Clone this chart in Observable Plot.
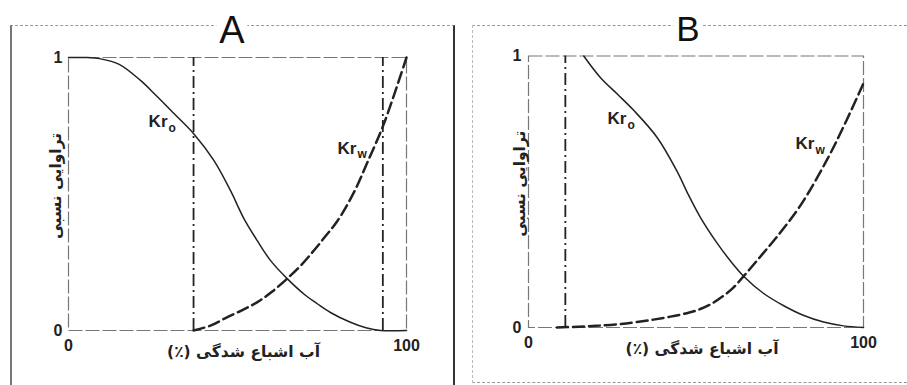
<!DOCTYPE html>
<html>
<head>
<meta charset="utf-8">
<script src="https://cdn.jsdelivr.net/npm/d3@7"></script>
<script src="https://cdn.jsdelivr.net/npm/@observablehq/plot@0.6"></script>
<style>
  body { margin: 0; background: #fff; }
  #wrap { position: relative; width: 907px; height: 385px; overflow: hidden; background: #fff; }
  .panel { position: absolute; top: 0; }
  .box { position: absolute; box-sizing: border-box; pointer-events: none; }
  #boxA { left: 10px; top: 25px; width: 445px; height: 362px;
          border-top: 1.5px dashed #999; border-left: 2px solid #777; border-right: 2px solid #333; }
  #boxB { left: 472px; top: 25px; width: 450px; height: 358px;
          border-top: 1.5px dashed #999; border-left: 1px dashed #bbb; border-bottom: 1.5px dashed #999; }
  .letter { position: absolute; font-family: "Liberation Sans", Arial, sans-serif; color: #111;
            background: #fff; line-height: 1; padding: 0 3px; transform: translateX(-50%); }
</style>
</head>
<body>
<div id="wrap">
  <div class="panel" id="pA" style="left:0px"></div>
  <div class="panel" id="pB" style="left:453px"></div>
  <div class="box" id="boxA"></div>
  <div class="box" id="boxB"></div>
</div>
<script>
// ---- data ----
const panelLetters = ["A", "B"];
const xTicks = [0, 100];
const yTicks = [0, 1];
const xLabel = "\u202Bآب اشباع شدگی (٪)\u202C";
const yLabel = "تراوایی نسبی";

// Panel A
const swKroA = [0, 5, 9.5, 15, 21.3, 26, 31.2, 37.1, 43, 47.9, 51.9, 55.8, 59.8, 64.7, 70, 73.6, 77.5, 83.4, 88, 92.3, 100];
const kroA   = [1, 1, 0.995, 0.975, 0.916, 0.86, 0.795, 0.72, 0.623, 0.513, 0.41, 0.33, 0.256, 0.19, 0.13, 0.098, 0.066, 0.03, 0.01, 0, 0];
const swKrwA = [37, 42, 47, 52, 56, 60, 64.7, 68.5, 72.6, 76, 79.5, 84.4, 88.4, 93.3, 100];
const krwA   = [0, 0.018, 0.049, 0.078, 0.105, 0.14, 0.19, 0.235, 0.293, 0.345, 0.40, 0.505, 0.615, 0.757, 1.0];
const cutoffsA = [37, 93];
const curveLabelsA = [{sub: "o", sw: 23.7, kr: 0.764}, {sub: "w", sw: 79.6, kr: 0.668}];

// Panel B
const swKroB = [16.5, 21.5, 26.5, 31.4, 38.4, 44.4, 47.4, 51.3, 56.3, 60.3, 64.3, 70, 76.2, 82, 88.1, 94, 100];
const kroB   = [1, 0.92, 0.86, 0.80, 0.70, 0.574, 0.497, 0.406, 0.311, 0.245, 0.188, 0.127, 0.08, 0.045, 0.02, 0.006, 0];
const swKrwB = [8.5, 15, 20, 26, 32.4, 42.4, 48, 51.3, 54.3, 58, 61, 64.3, 69, 74.2, 81.2, 89.2, 95.2, 100];
const krwB   = [0, 0.003, 0.006, 0.011, 0.02, 0.04, 0.055, 0.068, 0.085, 0.115, 0.145, 0.19, 0.258, 0.335, 0.45, 0.62, 0.77, 0.90];
const cutoffsB = [11];
const curveLabelsB = [{sub: "o", sw: 23.6, kr: 0.768}, {sub: "w", sw: 79.7, kr: 0.676}];

const ink = "#222";
const latin = "'Liberation Sans', Arial, sans-serif";
const arabic = "'DejaVu Sans', sans-serif";

function panel(o) {
  return Plot.plot({
    width: o.width, height: 385,
    marginLeft: o.ml, marginRight: o.mr, marginTop: o.mt, marginBottom: o.mb,
    style: {background: "transparent", fontFamily: latin, color: ink, overflow: "visible"},
    x: {domain: [0, 100]},
    y: {domain: [0, 1]},
    marks: [
      Plot.frame({stroke: "#777", strokeWidth: 1.2, strokeDasharray: "14 3"}),
      Plot.axisX({ticks: xTicks, tickFormat: d => String(d), tickSize: 0, tickPadding: 9, label: null, fontSize: 16, fontWeight: "bold"}),
      Plot.axisY({ticks: yTicks, tickFormat: d => String(d), tickSize: 0, tickPadding: o.typ, label: null, fontSize: 16, fontWeight: "bold"}),
      Plot.ruleX(o.cut, {y1: 0, y2: 1, stroke: ink, strokeWidth: 1.8, strokeDasharray: "12 4 2 4"}),
      Plot.line(o.kro, {x: o.swKro, y: o.kro, curve: "catmull-rom", stroke: ink, strokeWidth: 1.5}),
      Plot.line(o.krw, {x: o.swKrw, y: o.krw, curve: "catmull-rom", stroke: ink, strokeWidth: 2.5, strokeDasharray: "11 5"}),
      Plot.text(o.labels, {x: "sw", y: "kr", text: () => "Kr", textAnchor: "start", fontSize: 17, fontWeight: "bold", fill: ink}),
      Plot.text(o.labels, {x: "sw", y: "kr", text: "sub", textAnchor: "start", dx: 20, dy: 6, fontSize: 12, fontWeight: "bold", fill: ink}),
      Plot.text([xLabel], {frameAnchor: "bottom", textAnchor: "middle", dy: 22, dx: 6, lineAnchor: "middle", fontFamily: arabic, fontSize: 15.5, fontWeight: "bold", fill: ink}),
      Plot.text([yLabel], {frameAnchor: "left", textAnchor: "middle", dx: o.ydx, dy: -8, rotate: -90, lineAnchor: "middle", fontFamily: arabic, fontSize: 15.5, fontWeight: "bold", fill: ink})
    ]
  });
}

document.getElementById("pA").append(panel({
  width: 453, ml: 68, mr: 47, mt: 57, mb: 55, typ: 6, ydx: -12,
  swKro: swKroA, kro: kroA, swKrw: swKrwA, krw: krwA, cut: cutoffsA, labels: curveLabelsA
}));
document.getElementById("pB").append(panel({
  width: 454, ml: 75, mr: 44, mt: 55.5, mb: 58, typ: 7, ydx: -8,
  swKro: swKroB, kro: kroB, swKrw: swKrwB, krw: krwB, cut: cutoffsB, labels: curveLabelsB
}));

// panel letters sitting on the top border of each box
const wrap = document.getElementById("wrap");
const letterPos = [{left: 232, top: 11, size: 38}, {left: 688, top: 10.5, size: 35}];
panelLetters.forEach((t, i) => {
  const d = document.createElement("div");
  d.className = "letter";
  d.textContent = t;
  d.style.left = letterPos[i].left + "px";
  d.style.top = letterPos[i].top + "px";
  d.style.fontSize = letterPos[i].size + "px";
  wrap.append(d);
});
</script>
</body>
</html>
